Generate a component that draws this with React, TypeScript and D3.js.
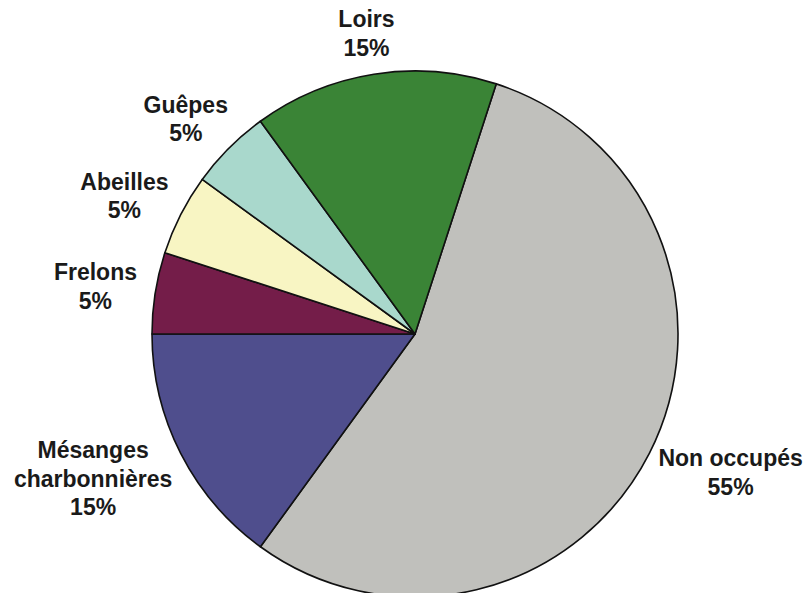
import React from "react";
import * as d3 from "d3";

const categories = ["Non occupés", "Mésanges charbonnières", "Frelons", "Abeilles", "Guêpes", "Loirs"];
const labelLines = [["Non occupés"], ["Mésanges", "charbonnières"], ["Frelons"], ["Abeilles"], ["Guêpes"], ["Loirs"]];
const values = [55, 15, 5, 5, 5, 15];
const colors = ["#c0c0bc", "#4f4e8d", "#741d49", "#f8f5c3", "#a9d8cc", "#3a8436"];

const W = 808;
const H = 593;
const FONT = "bold 23px 'Liberation Sans', Arial, sans-serif";

function measure(text: string): number {
  const c = document.createElement("canvas").getContext("2d");
  if (!c) return text.length * 12;
  c.font = FONT;
  return c.measureText(text).width;
}

export default function App() {
  const cx = 415;
  const cy = 334;
  const r = 263;
  const total = d3.sum(values);
  const pie = d3
    .pie<number>()
    .sort(null)
    .value((d) => d)
    .startAngle(0.1 * Math.PI)
    .endAngle(2.1 * Math.PI);
  const arcs = pie(values);
  const arc = d3.arc<d3.PieArcDatum<number>>().innerRadius(0).outerRadius(r);
  const lineH = 28.5;
  const cap = 16.5;

  return (
    <svg width={W} height={H} style={{ position: "absolute", left: 0, top: 0, background: "#fff" }}>
      <g transform={`translate(${cx},${cy})`}>
        {arcs.map((a, i) => (
          <path key={categories[i]} d={arc(a) || ""} fill={colors[i]} stroke="#111" strokeWidth={1.6} strokeLinejoin="round" />
        ))}
      </g>
      {arcs.map((a, i) => {
        const lines = [...labelLines[i], `${Math.round((values[i] / total) * 100)}%`];
        const theta = (a.startAngle + a.endAngle) / 2;
        const s = Math.sin(theta);
        const c = Math.cos(theta);
        const R = r + 19;
        const ax = cx + R * s;
        const ay = cy - R * c;
        const w = Math.max(...lines.map(measure));
        const h = cap + lineH * (lines.length - 1);
        const bx = ax + (s * w) / 2;
        const by = ay - (c * h) / 2;
        const y0 = by - h / 2 + cap;
        return (
          <text key={categories[i]} textAnchor="middle" style={{ font: FONT }} fill="#1a1a1a">
            {lines.map((t, j) => (
              <tspan key={j} x={bx} y={y0 + j * lineH}>
                {t}
              </tspan>
            ))}
          </text>
        );
      })}
    </svg>
  );
}
